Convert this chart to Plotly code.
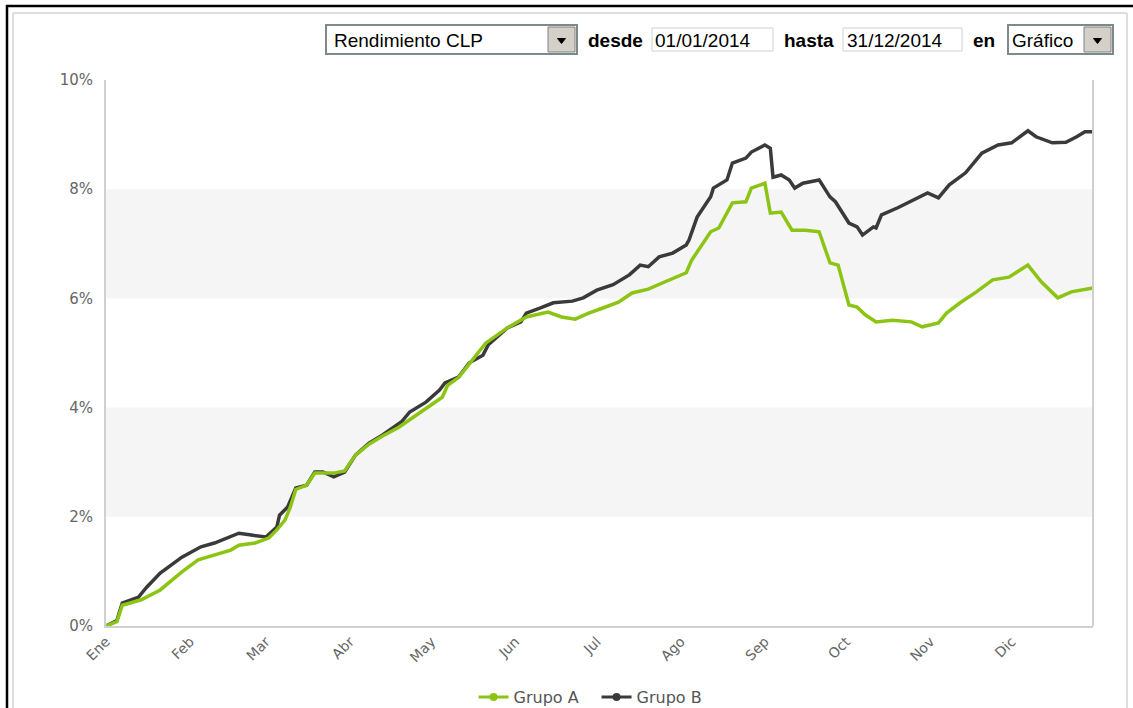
import plotly.graph_objects as go

# ---------------- data ----------------
dates_a = ["2014-01-01","2014-01-05","2014-01-07","2014-01-14","2014-01-21","2014-01-29","2014-02-04","2014-02-10","2014-02-16","2014-02-19","2014-02-25","2014-03-02","2014-03-05","2014-03-08","2014-03-10","2014-03-12","2014-03-16","2014-03-19","2014-03-22","2014-03-26","2014-03-30","2014-04-03","2014-04-08","2014-04-13","2014-04-19","2014-04-25","2014-05-05","2014-05-07","2014-05-11","2014-05-15","2014-05-21","2014-05-29","2014-06-05","2014-06-13","2014-06-18","2014-06-23","2014-06-28","2014-07-03","2014-07-09","2014-07-14","2014-07-20","2014-07-26","2014-08-01","2014-08-03","2014-08-05","2014-08-08","2014-08-12","2014-08-15","2014-08-20","2014-08-25","2014-08-27","2014-09-01","2014-09-03","2014-09-07","2014-09-11","2014-09-16","2014-09-21","2014-09-25","2014-09-28","2014-10-02","2014-10-05","2014-10-08","2014-10-12","2014-10-18","2014-10-25","2014-10-29","2014-11-04","2014-11-07","2014-11-12","2014-11-18","2014-11-24","2014-11-30","2014-12-07","2014-12-12","2014-12-18","2014-12-23","2014-12-27","2014-12-31"]
vals_a = [0.00,0.08,0.38,0.48,0.66,0.99,1.21,1.30,1.39,1.48,1.52,1.61,1.76,1.94,2.18,2.50,2.58,2.80,2.80,2.80,2.84,3.13,3.33,3.48,3.64,3.85,4.19,4.41,4.55,4.80,5.18,5.46,5.66,5.75,5.66,5.62,5.73,5.82,5.93,6.10,6.17,6.30,6.43,6.47,6.70,6.92,7.22,7.29,7.75,7.77,8.02,8.11,7.56,7.58,7.25,7.25,7.22,6.65,6.61,5.88,5.84,5.70,5.57,5.60,5.57,5.48,5.55,5.73,5.92,6.12,6.34,6.39,6.61,6.30,6.01,6.12,6.15,6.19]

dates_b = ["2014-01-01","2014-01-05","2014-01-07","2014-01-13","2014-01-16","2014-01-21","2014-01-29","2014-02-05","2014-02-10","2014-02-19","2014-02-23","2014-03-01","2014-03-05","2014-03-06","2014-03-09","2014-03-12","2014-03-16","2014-03-19","2014-03-22","2014-03-26","2014-03-30","2014-04-03","2014-04-08","2014-04-13","2014-04-20","2014-04-23","2014-04-29","2014-05-04","2014-05-06","2014-05-11","2014-05-15","2014-05-20","2014-05-22","2014-05-29","2014-06-03","2014-06-05","2014-06-10","2014-06-15","2014-06-22","2014-06-26","2014-07-01","2014-07-07","2014-07-13","2014-07-17","2014-07-20","2014-07-24","2014-07-29","2014-08-03","2014-08-04","2014-08-07","2014-08-12","2014-08-13","2014-08-18","2014-08-20","2014-08-25","2014-08-27","2014-09-01","2014-09-03","2014-09-04","2014-09-07","2014-09-10","2014-09-12","2014-09-15","2014-09-21","2014-09-25","2014-09-27","2014-10-02","2014-10-05","2014-10-07","2014-10-11","2014-10-12","2014-10-14","2014-10-20","2014-10-27","2014-10-31","2014-11-04","2014-11-08","2014-11-14","2014-11-20","2014-11-26","2014-12-01","2014-12-07","2014-12-10","2014-12-16","2014-12-21","2014-12-25","2014-12-28","2014-12-31"]
vals_b = [0.00,0.10,0.42,0.53,0.71,0.97,1.26,1.45,1.52,1.70,1.67,1.63,1.81,2.03,2.18,2.53,2.58,2.82,2.82,2.73,2.82,3.13,3.35,3.50,3.74,3.92,4.10,4.32,4.45,4.56,4.82,4.96,5.15,5.46,5.57,5.73,5.82,5.92,5.95,6.01,6.15,6.25,6.43,6.61,6.58,6.76,6.83,6.98,7.07,7.49,7.86,8.02,8.17,8.48,8.57,8.68,8.81,8.75,8.22,8.26,8.17,8.02,8.11,8.17,7.86,7.77,7.38,7.31,7.16,7.31,7.29,7.53,7.66,7.84,7.93,7.84,8.08,8.30,8.66,8.81,8.85,9.07,8.96,8.85,8.86,8.96,9.05,9.05]

series_names = ["Grupo A", "Grupo B"]
month_ticks = ["2014-01-01","2014-02-01","2014-03-01","2014-04-01","2014-05-01","2014-06-01",
               "2014-07-01","2014-08-01","2014-09-01","2014-10-01","2014-11-01","2014-12-01"]
month_labels = ["Ene","Feb","Mar","Abr","May","Jun","Jul","Ago","Sep","Oct","Nov","Dic"]
y_ticks = [0, 2, 4, 6, 8, 10]
y_labels = ["0%", "2%", "4%", "6%", "8%", "10%"]
bands = [(2, 4), (6, 8)]

# ---------------- style ----------------
W, H = 1133, 708
L, R, T, B = 106, 1093, 80, 626
GREEN = "#8cc414"
DARK = "#3a3a3a"
YTICKFONT = dict(family="DejaVu Sans", size=15, color="#666666")
XTICKFONT = dict(family="DejaVu Sans", size=14, color="#666666")


def px(x):
    return (x - L) / (R - L)


def py(y):
    return (B - y) / (B - T)


fig = go.Figure()

fig.add_trace(go.Scatter(x=dates_b, y=vals_b, mode="lines", name=series_names[1],
                         line=dict(color=DARK, width=3.5), showlegend=False))
fig.add_trace(go.Scatter(x=dates_a, y=vals_a, mode="lines", name=series_names[0],
                         line=dict(color=GREEN, width=3.5), showlegend=False))
# legend entries (line + dot symbol)
fig.add_trace(go.Scatter(x=[None], y=[None], mode="lines+markers", name=series_names[0],
                         line=dict(color=GREEN, width=3), marker=dict(color=GREEN, size=8)))
fig.add_trace(go.Scatter(x=[None], y=[None], mode="lines+markers", name=series_names[1],
                         line=dict(color=DARK, width=3), marker=dict(color=DARK, size=8)))

shapes = []
for lo, hi in bands:
    shapes.append(dict(type="rect", xref="paper", yref="y", x0=0, x1=1, y0=lo, y1=hi,
                       fillcolor="#f5f5f5", line=dict(width=0), layer="below"))
# right border of plot area
shapes.append(dict(type="line", xref="paper", yref="paper", x0=1, x1=1, y0=0, y1=1,
                   line=dict(color="#d0d0d0", width=2)))
# outer frame
shapes.append(dict(type="line", xref="paper", yref="paper", x0=px(7), x1=px(7), y0=py(5), y1=py(720),
                   line=dict(color="#000000", width=2.5)))
shapes.append(dict(type="line", xref="paper", yref="paper", x0=px(6), x1=px(1140), y0=py(6), y1=py(6),
                   line=dict(color="#000000", width=2.5)))
shapes.append(dict(type="line", xref="paper", yref="paper", x0=px(13), x1=px(13), y0=py(13), y1=py(720),
                   line=dict(color="#dddddd", width=2)))
shapes.append(dict(type="line", xref="paper", yref="paper", x0=px(13), x1=px(1127), y0=py(13), y1=py(13),
                   line=dict(color="#dddddd", width=2)))
shapes.append(dict(type="line", xref="paper", yref="paper", x0=px(1127), x1=px(1127), y0=py(13), y1=py(720),
                   line=dict(color="#dddddd", width=2)))


def box(x0, x1, y0, y1, fill="#ffffff", border="#c8c8c8", w=1):
    shapes.append(dict(type="rect", xref="paper", yref="paper", x0=px(x0), x1=px(x1), y0=py(y1), y1=py(y0),
                       fillcolor=fill, line=dict(color=border, width=w)))


def button(x0, x1, y0, y1):
    box(x0, x1, y0, y1, fill="#d4d0c8", border="#808080", w=1)
    cx = (x0 + x1) / 2
    cy = (y0 + y1) / 2 + 1
    shapes.append(dict(type="path", xref="paper", yref="paper",
                       path="M {} {} L {} {} L {} {} Z".format(px(cx - 4), py(cy - 2), px(cx + 4), py(cy - 2), px(cx), py(cy + 3)),
                       fillcolor="#000000", line=dict(color="#000000", width=1)))


# controls
box(326, 577, 25, 54, border="#7d8a8a", w=2)
button(548, 575, 27, 52)
box(652, 773, 28, 51, border="#d0d0d0")
box(843, 962, 28, 51, border="#d0d0d0")
box(1008, 1113, 25, 54, border="#7d8a8a", w=2)
button(1084, 1111, 27, 52)

CTRL = dict(family="Liberation Sans, Arial", size=19, color="#000000")
annotations = []


def label(x, text, bold=False):
    annotations.append(dict(x=px(x), y=py(40), xref="paper", yref="paper", xanchor="left", yanchor="middle",
                            text=("<b>%s</b>" % text) if bold else text, showarrow=False, font=CTRL))


label(332, "Rendimiento CLP")
label(586, "desde", bold=True)
label(653, "01/01/2014")
label(782, "hasta", bold=True)
label(845, "31/12/2014")
label(971, "en", bold=True)
label(1010, "Gráfico")

fig.update_layout(
    width=W, height=H,
    margin=dict(l=L, r=W - R, t=T, b=H - B, autoexpand=False),
    paper_bgcolor="#ffffff", plot_bgcolor="#ffffff",
    shapes=shapes, annotations=annotations,
    showlegend=True,
    legend=dict(orientation="h", x=0.497, xanchor="center", y=py(697), yanchor="middle",
                font=dict(family="DejaVu Sans", size=16, color="#555555"), itemwidth=30,
                entrywidth=78, entrywidthmode="pixels"),
    xaxis=dict(type="date", range=["2014-01-01", "2014-12-31"], tickmode="array",
               tickvals=month_ticks, ticktext=month_labels, tickangle=-45, tickfont=XTICKFONT,
               showgrid=False, zeroline=False, showline=True, linecolor="#d0d0d0", linewidth=2,
               ticks=""),
    yaxis=dict(range=[0, 10], tickmode="array", tickvals=y_ticks, ticktext=y_labels,
               tickfont=YTICKFONT, showgrid=False, zeroline=False, showline=True,
               linecolor="#d0d0d0", linewidth=2, ticks="outside", ticklen=8, tickcolor="#ffffff"),
    hovermode=False,
)

fig.write_html("out.html", config={"displayModeBar": False},
               post_script="document.body.style.margin='0px';document.body.style.overflow='hidden';")
